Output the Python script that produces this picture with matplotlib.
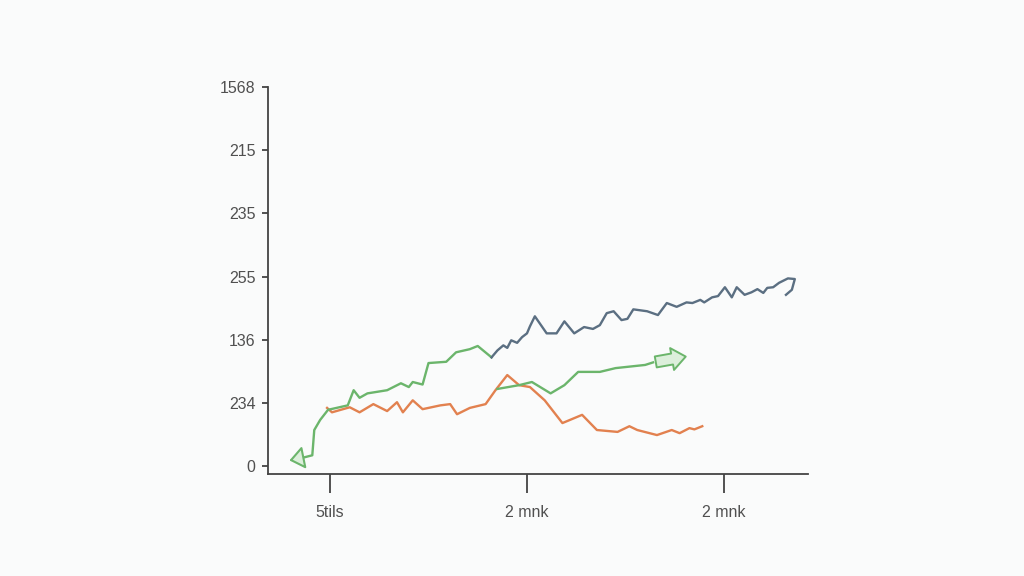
import matplotlib.pyplot as plt

# series (x: tick spacing 100, y: tick spacing 100)
green_x = [-14, -9, -8, -5, -1, 9, 12, 15, 19, 29, 36, 40, 42, 47, 50, 59, 64, 71, 75, 82]
green_y = [13, 17, 57, 73, 89, 96, 120, 108, 115, 120, 131, 125, 133, 129, 163, 165, 180, 185, 190, 172]
green_start = (-22, 8)

gray_x = [82, 85, 88, 90, 92, 95, 97.5, 100, 101.5, 104, 110, 115, 119, 124, 129, 133.5, 137, 140.5,
          144, 148, 151, 154, 161, 166.5, 171, 176, 181, 184, 188, 190, 194, 197, 200.5, 204, 206.5,
          210.5, 214, 217, 220, 222, 225, 228, 232.5, 236, 234.5, 231.5]
gray_y = [172, 183, 191, 187, 199, 195, 204, 210, 221, 237, 210, 210, 229, 210, 220, 217, 223, 242,
          245, 231, 233, 248, 245, 239, 258, 252, 259, 258, 263, 259, 267, 269, 283, 267, 283,
          271, 275, 280, 274, 282, 283, 290, 297, 296, 279, 271]

green2_x = [85, 96, 102.5, 112, 119, 126, 137, 145, 160, 164]
green2_y = [122, 128, 133, 115, 128, 149, 149, 155, 160, 164]
green2_tip = (182, 174)

orange_x = [-1.5, 1, 10, 15, 22, 29, 34, 37, 42, 47, 56, 61, 64.5, 71, 79, 84, 90, 96, 101.5,
            109, 118, 128, 135.5, 146, 152, 156, 166, 173.5, 177.5, 182.5, 185, 189]
orange_y = [92, 85, 93, 85, 98, 87, 101, 85, 104, 90, 96, 98, 82, 92, 98, 120, 144, 128, 125,
            104, 68, 81, 57, 54, 63, 57, 49, 57, 52, 60, 58, 63]

x_ticks = [0, 100, 200]
x_labels = ["5tils", "2 mnk", "2 mnk"]
y_ticks = [0, 100, 200, 300, 400, 500, 600]
y_labels = ["0", "234", "136", "255", "235", "215", "1568"]

c_gray = "#5b6f82"
c_green = "#6bb56b"
c_orange = "#e2814f"
c_fill = "#dcefdb"
c_text = "#505050"

plt.rcParams["font.family"] = ["Liberation Sans", "DejaVu Sans"]

fig = plt.figure(figsize=(10.24, 5.76), dpi=100)
fig.patch.set_facecolor("#fafbfb")
ax = fig.add_axes([0.2617, 0.177, 0.527, 0.672])
ax.set_facecolor("#fafbfb")

ax.plot(orange_x, orange_y, color=c_orange, lw=1.7)
ax.plot(green_x, green_y, color=c_green, lw=1.7)
ax.plot(green2_x, green2_y, color=c_green, lw=1.7)
ax.plot(gray_x, gray_y, color=c_gray, lw=1.7)

# arrow heads on the green line
ax.annotate("", xy=green_start, xytext=(green_x[0], green_y[0]),
            arrowprops=dict(arrowstyle="-|>,head_width=0.7,head_length=0.9",
                            fc=c_fill, ec=c_green, lw=1.5))
ax.annotate("", xy=green2_tip, xytext=(green2_x[-1], green2_y[-1]),
            arrowprops=dict(arrowstyle="simple,head_width=1.6,head_length=1.0,tail_width=0.8",
                            fc=c_fill, ec=c_green, lw=1.4))

ax.set_xlim(-31.5, 242.5)
ax.set_ylim(-12.7, 600)
ax.set_xticks(x_ticks)
ax.set_xticklabels(x_labels)
ax.set_yticks(y_ticks)
ax.set_yticklabels(y_labels)

for s in ["top", "right"]:
    ax.spines[s].set_visible(False)
for s in ["left", "bottom"]:
    ax.spines[s].set_color("#444444")
    ax.spines[s].set_linewidth(1.3)

ax.tick_params(axis="x", length=14, width=1.3, color="#444444", labelsize=11.5,
               labelcolor=c_text, pad=8)
ax.tick_params(axis="y", length=4, width=1.3, color="#444444", labelsize=11.5,
               labelcolor=c_text, pad=5)

fig.savefig("out.png", dpi=100, facecolor=fig.get_facecolor())
